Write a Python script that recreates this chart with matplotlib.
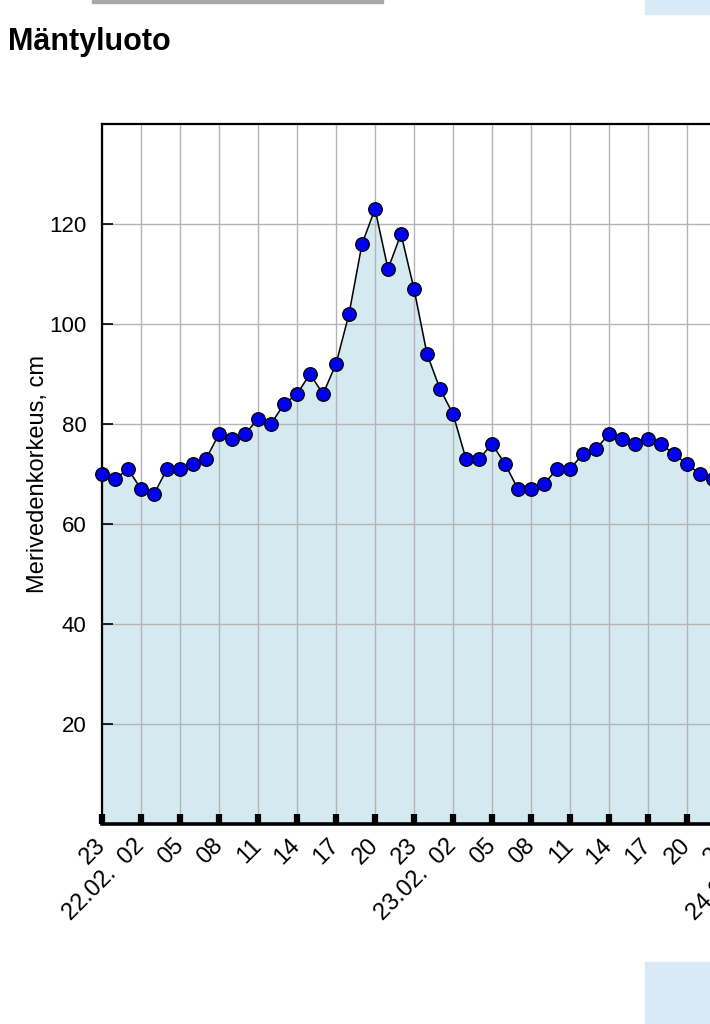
import numpy as np
import pandas as pd
import matplotlib
matplotlib.use("Agg")
import matplotlib.pyplot as plt
import matplotlib.dates as mdates
from matplotlib.patches import Rectangle
from matplotlib.ticker import FuncFormatter

plt.rcParams['font.family'] = ['Liberation Sans', 'DejaVu Sans']

# hourly sea level readings, starting 21.02. 23:00
start = "2024-02-21 23:00"
levels = [70, 69, 71, 67, 66, 71, 71, 72, 73, 78, 77, 78, 81, 80, 84, 86,
          90, 86, 92, 102, 116, 123, 111, 118, 107, 94, 87, 82, 73, 73, 76, 72,
          67, 67, 68, 71, 71, 74, 75, 78, 77, 76, 77, 76, 74, 72, 70, 69]
times = pd.date_range(start, periods=len(levels), freq="h")
yticks = [20, 40, 60, 80, 100, 120]

title = "Mäntyluoto"
ylabel = "Merivedenkorkeus, cm"

fig = plt.figure(figsize=(7.1, 10.24), dpi=100)

# page decorations around the chart
fig.patches.append(Rectangle((92 / 710, 1 - 3 / 1024), 291 / 710, 3 / 1024,
                             transform=fig.transFigure, color="#a8a8a8", zorder=0))
fig.patches.append(Rectangle((645 / 710, 1 - 14 / 1024), 65 / 710, 14 / 1024,
                             transform=fig.transFigure, color="#d9e9f6", zorder=0))
fig.patches.append(Rectangle((645 / 710, 0), 65 / 710, 62 / 1024,
                             transform=fig.transFigure, color="#d9e9f6", zorder=0))

fig.text(8 / 710, 1 - 50 / 1024, title, fontsize=22, fontweight="bold",
         ha="left", va="baseline")

# the plot area runs off the right edge of the picture (13 px per hour)
hours_shown = 54
ax_w = hours_shown * 13
ax = fig.add_axes([102 / 710, 200 / 1024, ax_w / 710, 700 / 1024])

t0 = mdates.date2num(times[0])
ax.set_xlim(t0, t0 + hours_shown / 24)
ax.set_ylim(0, 140)

ax.fill_between(times, levels, 0, color="#d5e9f1", zorder=1)
ax.plot(times, levels, color="black", lw=1.1, marker="o", markersize=9.8,
        markerfacecolor="#0000ee", markeredgecolor="black", markeredgewidth=0.9,
        zorder=3, clip_on=False)

ax.set_yticks(yticks)
ax.xaxis.set_major_locator(mdates.HourLocator(byhour=range(2, 24, 3)))


def hour_label(x, pos):
    d = mdates.num2date(x)
    if d.hour == 2:
        return d.strftime("%d.%m.  %H")
    return d.strftime("%H")


ax.xaxis.set_major_formatter(FuncFormatter(hour_label))

# grid and ticks above the fill, below the line
ax.grid(True, color="#b4b4b4", lw=1.0)
ax.set_axisbelow("line")

for side in ["top", "left"]:
    ax.spines[side].set_linewidth(1.6)
ax.spines["bottom"].set_linewidth(2.6)
ax.spines["right"].set_visible(False)

ax.tick_params(axis="y", direction="in", length=8, width=1.2, labelsize=16, pad=11)
ax.tick_params(axis="x", direction="in", length=7, width=4.5, labelsize=17, pad=13)
for lbl in ax.get_xticklabels():
    lbl.set_rotation(45)
    lbl.set_ha("right")
    lbl.set_va("center")
    lbl.set_rotation_mode("anchor")

ax.set_ylabel(ylabel, fontsize=17)
ax.yaxis.set_label_coords(-53 / ax_w, 0.5)

fig.savefig("out.png", dpi=100)
